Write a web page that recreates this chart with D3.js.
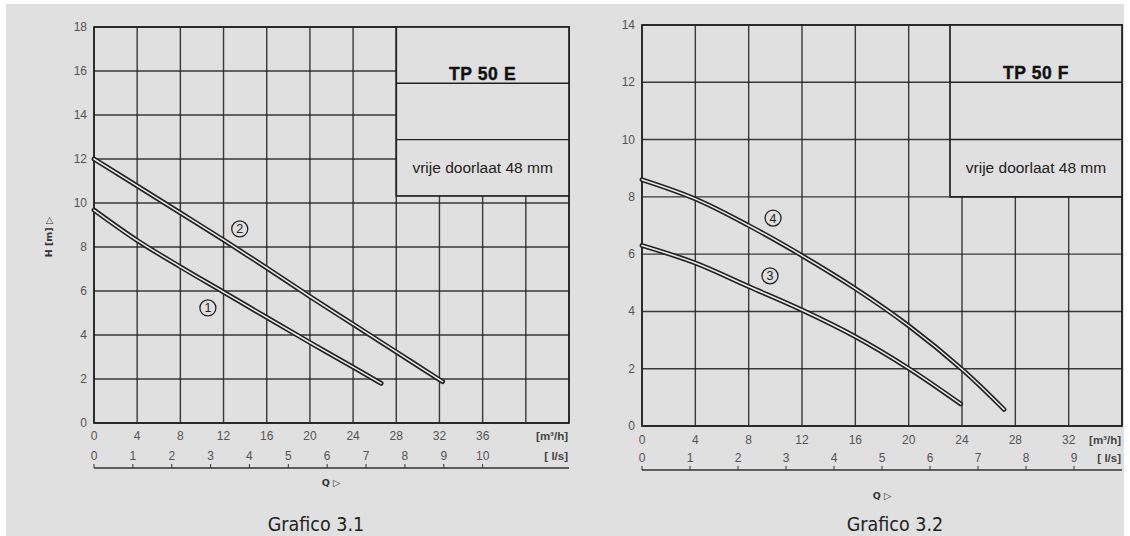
<!DOCTYPE html>
<html>
<head>
<meta charset="utf-8">
<script src="https://cdn.jsdelivr.net/npm/d3@7"></script>
<style>
  html, body { margin: 0; padding: 0; background: #ffffff; }
  svg { display: block; }
</style>
</head>
<body>
<svg id="chart" width="1130" height="536"></svg>
<script>
// ---------- data ----------
// Grafico 3.1 : TP 50 E
const qTicksE = [0, 4, 8, 12, 16, 20, 24, 28, 32, 36];
const lsTicksE = [0, 1, 2, 3, 4, 5, 6, 7, 8, 9, 10];
const hTicksE = [0, 2, 4, 6, 8, 10, 12, 14, 16, 18];
const curve1Q = [0, 4, 8, 12, 16, 20, 24, 26.6];
const curve1H = [9.68, 8.3, 7.1, 5.95, 4.8, 3.66, 2.54, 1.8];
const curve2Q = [0, 4, 8, 12, 16, 20, 24, 28, 32, 32.3];
const curve2H = [12.0, 10.78, 9.55, 8.32, 7.05, 5.75, 4.49, 3.23, 1.97, 1.88];

// Grafico 3.2 : TP 50 F
const qTicksF = [0, 4, 8, 12, 16, 20, 24, 28, 32];
const lsTicksF = [0, 1, 2, 3, 4, 5, 6, 7, 8, 9];
const hTicksF = [0, 2, 4, 6, 8, 10, 12, 14];
const curve3Q = [0, 4, 8, 12, 16, 20, 23.9];
const curve3H = [6.3, 5.69, 4.87, 4.05, 3.12, 2.01, 0.77];
const curve4Q = [0, 4, 8, 12, 16, 20, 24, 27.15];
const curve4H = [8.6, 7.93, 7.0, 5.95, 4.8, 3.5, 1.98, 0.58];

const titleE = "TP 50 E", titleF = "TP 50 F";
const noteText = "vrije doorlaat 48 mm";
const captionE = "Grafico 3.1", captionF = "Grafico 3.2";
const M3H_PER_LS = 3.6;

// ---------- drawing ----------
const svg = d3.select("#chart");
const PANEL = "#e0e0e0";
const INK = "#222";

svg.append("rect").attr("x", 6).attr("y", 4).attr("width", 1118).attr("height", 532).attr("fill", PANEL);

function drawChart(cfg) {
  const g = svg.append("g");
  const x = d3.scaleLinear().domain([0, cfg.qMax]).range([cfg.left, cfg.right]);
  const y = d3.scaleLinear().domain([0, cfg.hMax]).range([cfg.bottom, cfg.top]);
  const xl = d3.scaleLinear().domain([0, cfg.qMax / M3H_PER_LS]).range([cfg.left, cfg.right]);

  // grid
  const gridX = d3.range(0, cfg.qMax + 0.001, 4);
  const gridY = d3.range(0, cfg.hMax + 0.001, 2);
  g.selectAll(".gx").data(gridX).join("line")
    .attr("x1", d => x(d)).attr("x2", d => x(d))
    .attr("y1", y(0)).attr("y2", y(cfg.hMax))
    .attr("stroke", INK).attr("stroke-width", 1.4).attr("opacity", 0.88);
  g.selectAll(".gy").data(gridY).join("line")
    .attr("x1", x(0)).attr("x2", x(cfg.qMax))
    .attr("y1", d => y(d)).attr("y2", d => y(d))
    .attr("stroke", INK).attr("stroke-width", 1.4).attr("opacity", 0.88);
  g.append("rect").attr("x", x(0)).attr("y", y(cfg.hMax))
    .attr("width", x(cfg.qMax) - x(0)).attr("height", y(0) - y(cfg.hMax))
    .attr("fill", "none").attr("stroke", INK).attr("stroke-width", 1.7);

  // legend box
  const bx0 = x(cfg.box.q0), bx1 = x(cfg.qMax), by0 = y(cfg.hMax), by1 = y(cfg.box.h1);
  const rowH = (by1 - by0) / 3;
  g.append("rect").attr("x", bx0).attr("y", by0).attr("width", bx1 - bx0).attr("height", by1 - by0)
    .attr("fill", PANEL).attr("stroke", INK).attr("stroke-width", 1.7);
  [1, 2].forEach(i => g.append("line").attr("x1", bx0).attr("x2", bx1)
    .attr("y1", by0 + rowH * i).attr("y2", by0 + rowH * i)
    .attr("stroke", INK).attr("stroke-width", 1.4));
  const bcx = (bx0 + bx1) / 2;
  g.append("text").attr("x", bcx).attr("y", by0 + rowH * 0.94)
    .attr("text-anchor", "middle").attr("font-family", "Liberation Sans, Arial, sans-serif")
    .attr("font-weight", "bold").attr("font-size", 17.5).attr("letter-spacing", 0.6)
    .attr("fill", "#111").attr("stroke", "#111").attr("stroke-width", 0.4).text(cfg.title);
  g.append("text").attr("x", bcx).attr("y", by0 + rowH * 2.5 + 5)
    .attr("text-anchor", "middle").attr("font-family", "Liberation Sans, Arial, sans-serif")
    .attr("font-size", 15.5).attr("fill", "#222").text(noteText);

  // curves (double line)
  const line = d3.line().x(d => x(d[0])).y(d => y(d[1])).curve(d3.curveCatmullRom.alpha(0.5));
  cfg.curves.forEach(c => {
    const pts = c.q.map((q, i) => [q, c.h[i]]);
    g.append("path").attr("d", line(pts)).attr("fill", "none")
      .attr("stroke", INK).attr("stroke-width", 4.8).attr("stroke-linecap", "round");
    g.append("path").attr("d", line(pts)).attr("fill", "none")
      .attr("stroke", "#ececec").attr("stroke-width", 1.5).attr("stroke-linecap", "round");
    g.append("circle").attr("cx", x(c.lq)).attr("cy", y(c.lh)).attr("r", 8)
      .attr("fill", "none").attr("stroke", INK).attr("stroke-width", 1.3);
    g.append("text").attr("x", x(c.lq)).attr("y", y(c.lh) + 4.5).attr("text-anchor", "middle")
      .attr("font-family", "Liberation Sans, Arial, sans-serif").attr("font-size", 12.5)
      .attr("fill", INK).text(c.label);
  });

  // y tick labels
  g.selectAll(".yt").data(cfg.hTicks).join("text")
    .attr("x", x(0) - 7).attr("y", d => y(d) + 4).attr("text-anchor", "end")
    .attr("font-family", "Liberation Sans, Arial, sans-serif").attr("font-size", 12)
    .attr("fill", "#555").text(d => d);

  // x tick labels (m3/h)
  g.selectAll(".xt").data(cfg.qTicks).join("text")
    .attr("x", d => x(d)).attr("y", cfg.bottom + cfg.qLabelDy).attr("text-anchor", "middle")
    .attr("font-family", "Liberation Sans, Arial, sans-serif").attr("font-size", 12)
    .attr("fill", "#555").text(d => d);
  g.append("text").attr("x", cfg.right - 1).attr("y", cfg.bottom + cfg.qLabelDy).attr("text-anchor", "end")
    .attr("font-family", "Liberation Sans, Arial, sans-serif").attr("font-size", 11.5).attr("font-weight", "bold")
    .attr("fill", "#444").text("[m³/h]");

  // l/s axis
  const lsY = cfg.bottom + cfg.lsLineDy;
  g.append("line").attr("x1", xl(0)).attr("x2", cfg.right).attr("y1", lsY).attr("y2", lsY)
    .attr("stroke", "#333").attr("stroke-width", 1.3);
  g.selectAll(".lt").data(cfg.lsTicks).join("line")
    .attr("x1", d => xl(d)).attr("x2", d => xl(d)).attr("y1", lsY).attr("y2", lsY - 4)
    .attr("stroke", "#333").attr("stroke-width", 1);
  g.selectAll(".ll").data(cfg.lsTicks).join("text")
    .attr("x", d => xl(d)).attr("y", lsY - 8).attr("text-anchor", "middle")
    .attr("font-family", "Liberation Sans, Arial, sans-serif").attr("font-size", 12)
    .attr("fill", "#555").text(d => d);
  g.append("text").attr("x", cfg.right - 1).attr("y", lsY - 8).attr("text-anchor", "end")
    .attr("font-family", "Liberation Sans, Arial, sans-serif").attr("font-size", 11.5).attr("font-weight", "bold")
    .attr("fill", "#444").text("[ l/s]");

  // Q label
  g.append("text").attr("x", cfg.qTitleX).attr("y", cfg.qTitleY).attr("text-anchor", "middle")
    .attr("font-family", "DejaVu Sans, sans-serif").attr("font-size", 9.5).attr("font-weight", "bold")
    .attr("fill", "#333").text("Q ▷");

  // caption
  g.append("text").attr("x", cfg.captionX).attr("y", 531).attr("text-anchor", "middle")
    .attr("font-family", "DejaVu Sans Condensed, DejaVu Sans, sans-serif").attr("font-size", 19.5)
    .attr("fill", "#222").text(cfg.caption);

  // y title
  if (cfg.yTitle) {
    g.append("text").attr("transform", `translate(${cfg.yTitleX},${(cfg.top + cfg.bottom) / 2 + 12}) rotate(-90)`)
      .attr("text-anchor", "middle").attr("font-family", "DejaVu Sans, sans-serif")
      .attr("font-size", 9.5).attr("font-weight", "bold").attr("fill", "#333").text(cfg.yTitle);
  }
}

drawChart({
  left: 94, right: 569, top: 27, bottom: 423, qMax: 44, hMax: 18,
  qTicks: qTicksE, lsTicks: lsTicksE, hTicks: hTicksE,
  box: { q0: 28, h1: 10.32 }, title: titleE,
  curves: [
    { q: curve1Q, h: curve1H, label: "1", lq: 10.55, lh: 5.23 },
    { q: curve2Q, h: curve2H, label: "2", lq: 13.5, lh: 8.82 }
  ],
  qLabelDy: 17, lsLineDy: 45, qTitleX: 331, qTitleY: 486,
  caption: captionE, captionX: 316, yTitle: "H [m] ▷", yTitleX: 52
});

drawChart({
  left: 642, right: 1122, top: 25, bottom: 426, qMax: 36, hMax: 14,
  qTicks: qTicksF, lsTicks: lsTicksF, hTicks: hTicksF,
  box: { q0: 23.1, h1: 8 }, title: titleF,
  curves: [
    { q: curve3Q, h: curve3H, label: "3", lq: 9.6, lh: 5.24 },
    { q: curve4Q, h: curve4H, label: "4", lq: 9.83, lh: 7.26 }
  ],
  qLabelDy: 18, lsLineDy: 44, qTitleX: 882, qTitleY: 499,
  caption: captionF, captionX: 895, yTitle: null
});
</script>
</body>
</html>
